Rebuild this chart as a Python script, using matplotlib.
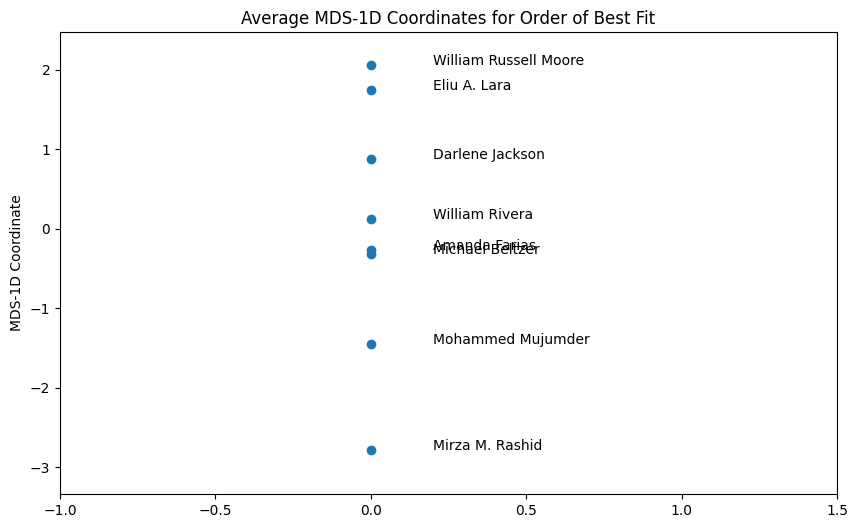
import matplotlib
matplotlib.use('Agg')
import matplotlib.pyplot as plt
import numpy as np

# people and their averaged 1-D MDS coordinate
names = ['William Russell Moore', 'Eliu A. Lara', 'Darlene Jackson', 'William Rivera',
         'Amanda Farias', 'Michael Beltzer', 'Mohammed Mujumder', 'Mirza M. Rashid']
coords = [2.068, 1.75, 0.884, 0.125, -0.27, -0.32, -1.45, -2.78]

fig = plt.figure(figsize=(8.55, 5.28), dpi=100)
fig.subplots_adjust(left=60/855, right=837/855, top=1-32/528, bottom=1-494/528)

x = np.zeros(len(coords))
plt.scatter(x, coords)
for xi, yi, name in zip(x, coords, names):
    plt.text(xi + 0.2, yi, name)

plt.title('Average MDS-1D Coordinates for Order of Best Fit')
plt.ylabel('MDS-1D Coordinate')
plt.xlim(-1, 1.5)
plt.ylim(-3.34, 2.478)

plt.savefig('out.png', dpi=100)
